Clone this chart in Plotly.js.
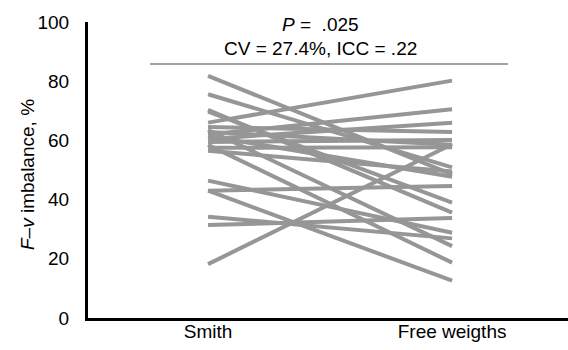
<!DOCTYPE html>
<html>
<head>
<meta charset="utf-8">
<script src="https://cdn.plot.ly/plotly-3.0.1.min.js"></script>
<style>html,body{margin:0;padding:0;background:#fff;}#chart{width:568px;height:350px;}</style>
</head>
<body>
<div id="chart"></div>
<script>
var categories = ['Smith', 'Free weigths'];
var smith =        [81.8, 75.6, 70.3, 69.7, 66.0, 64.5, 63.5, 62.8, 62.0, 61.5, 60.5, 59.5, 58.5, 57.5, 56.5, 46.4, 43.0, 43.0, 34.2, 31.4, 18.2];
var freeWeigths =  [48.5, 50.9, 35.6, 39.0, 80.2, 62.8, 24.3, 58.5, 70.5, 47.7, 66.0, 60.1, 18.7, 57.7, 49.5, 28.8, 44.6, 12.6, 26.9, 33.8, 58.7];
var yTicks = [0, 20, 40, 60, 80, 100];
var yTitle = '<i>F</i>–<i>v</i> imbalance, %';
var bracketY = 85.8;

var font = 'Liberation Sans, Arial, sans-serif';
var traces = smith.map(function (s, i) {
  return {
    type: 'scatter', mode: 'lines',
    x: categories, y: [s, freeWeigths[i]],
    line: {color: 'rgb(150,150,150)', width: 4},
    hoverinfo: 'skip', showlegend: false
  };
});

var layout = {
  width: 568, height: 350,
  margin: {l: 88, r: 0, t: 22, b: 32, pad: 0},
  paper_bgcolor: '#fff', plot_bgcolor: '#fff',
  font: {family: font, size: 19, color: '#000'},
  showlegend: false,
  xaxis: {
    type: 'category', range: [-0.492, 1.475],
    showgrid: false, zeroline: false,
    showline: true, linecolor: '#000', linewidth: 3,
    ticks: '', ticklabelstandoff: -6,
    tickfont: {family: font, size: 19, color: '#000'}
  },
  yaxis: {
    range: [0, 100], tickvals: yTicks,
    showgrid: false, zeroline: false,
    showline: true, linecolor: '#000', linewidth: 3,
    ticks: 'outside', ticklen: 12, tickcolor: 'rgba(0,0,0,0)',
    tickfont: {family: font, size: 19, color: '#000'}
  },
  shapes: [{
    type: 'line', xref: 'paper', yref: 'y',
    x0: (150 - 88) / 480, x1: (508 - 88) / 480, y0: bracketY, y1: bracketY,
    line: {color: 'rgb(130,130,130)', width: 1.5}
  }],
  annotations: [{
    xref: 'paper', yref: 'paper', x: (27 - 88) / 480, y: (318 - 175) / 296,
    text: yTitle, textangle: -90, showarrow: false, xanchor: 'center', yanchor: 'middle',
    font: {family: font, size: 19, color: '#000'}
  }, {
    xref: 'paper', yref: 'paper', x: (320 - 88) / 480, y: (318 - 25) / 296,
    text: '<i>P</i> =  .025', showarrow: false, xanchor: 'center', yanchor: 'middle',
    font: {family: font, size: 19, color: '#000'}
  }, {
    xref: 'paper', yref: 'paper', x: (320 - 88) / 480, y: (318 - 48) / 296,
    text: 'CV = 27.4%, ICC = .22', showarrow: false, xanchor: 'center', yanchor: 'middle',
    font: {family: font, size: 19, color: '#000'}
  }]
};

Plotly.newPlot('chart', traces, layout, {displayModeBar: false, staticPlot: true});
</script>
</body>
</html>
